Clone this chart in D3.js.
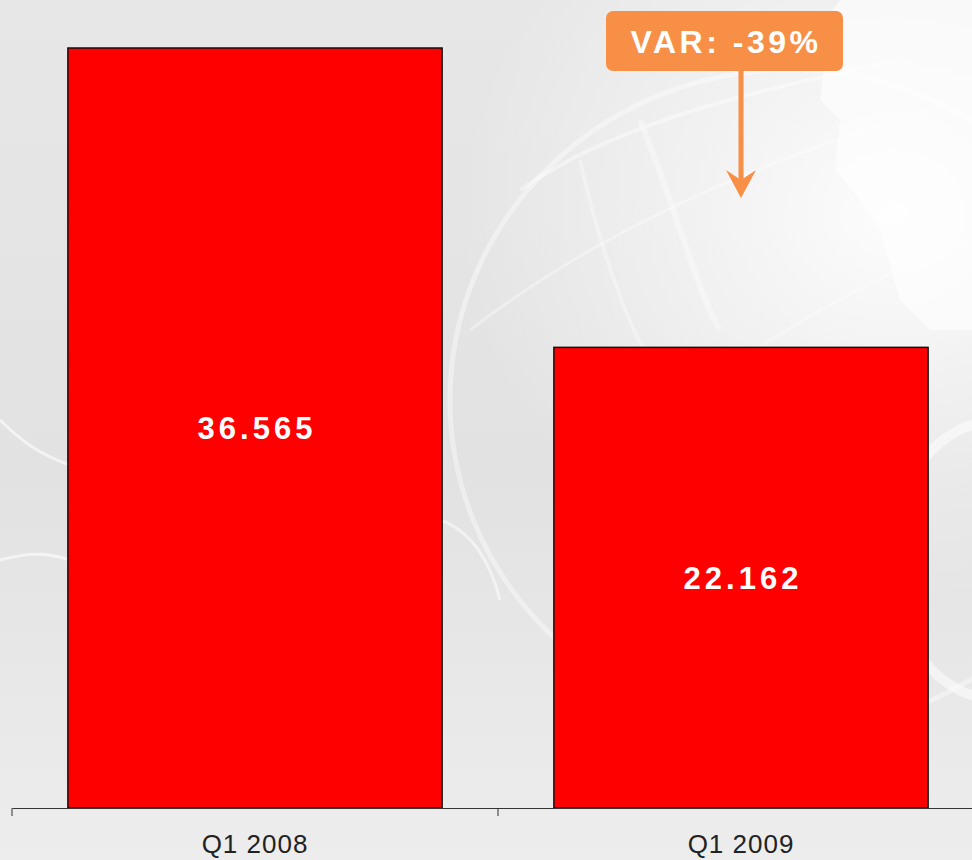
<!DOCTYPE html>
<html>
<head>
<meta charset="utf-8">
<script src="https://cdn.jsdelivr.net/npm/d3@7"></script>
<style>
  html, body { margin: 0; padding: 0; background: #e6e6e6; }
  svg { display: block; }
</style>
</head>
<body>
<div id="chart"></div>
<script>
// data
const categories = ["Q1 2008", "Q1 2009"];
const values = [36565, 22162];
const valueLabels = ["36.565", "22.162"];
const varLabel = "VAR: -39%";

const width = 972, height = 860;
const baseY = 808;

const svg = d3.select("#chart")
  .append("svg")
  .attr("width", width)
  .attr("height", height);

// background - light grey with a faint globe
const defs = svg.append("defs");
const bg = defs.append("radialGradient").attr("id", "bgGlow")
  .attr("cx", 0.92).attr("cy", 0.25).attr("r", 0.45);
bg.append("stop").attr("offset", 0).attr("stop-color", "#ffffff").attr("stop-opacity", 0.9);
bg.append("stop").attr("offset", 1).attr("stop-color", "#ffffff").attr("stop-opacity", 0);

const bg2 = defs.append("linearGradient").attr("id", "bgBase")
  .attr("x1", 0).attr("y1", 0).attr("x2", 0).attr("y2", 1);
bg2.append("stop").attr("offset", 0).attr("stop-color", "#e7e7e7");
bg2.append("stop").attr("offset", 0.55).attr("stop-color", "#e2e2e2");
bg2.append("stop").attr("offset", 1).attr("stop-color", "#ededed");

svg.append("rect").attr("width", width).attr("height", height).attr("fill", "url(#bgBase)");
svg.append("rect").attr("width", width).attr("height", height).attr("fill", "url(#bgGlow)");

const deco = svg.append("g").attr("fill", "none").attr("stroke", "#ffffff");
// globe outline
deco.append("ellipse").attr("cx", 790).attr("cy", 400).attr("rx", 340).attr("ry", 330)
  .attr("stroke-width", 5).attr("stroke-opacity", 0.4);
deco.append("ellipse").attr("cx", 1000).attr("cy", 560).attr("rx", 110).attr("ry", 140)
  .attr("stroke-width", 10).attr("stroke-opacity", 0.5);
// meridians / parallels
deco.append("path").attr("d", "M520,190 C620,120 760,90 900,60").attr("stroke-width", 4).attr("stroke-opacity", 0.4);
deco.append("path").attr("d", "M470,330 C600,230 760,160 930,110").attr("stroke-width", 3).attr("stroke-opacity", 0.35);
deco.append("path").attr("d", "M600,470 C720,360 860,280 972,240").attr("stroke-width", 3).attr("stroke-opacity", 0.3);
deco.append("path").attr("d", "M640,120 C680,220 700,300 720,330").attr("stroke-width", 6).attr("stroke-opacity", 0.35);
deco.append("path").attr("d", "M580,160 C600,250 630,330 650,360").attr("stroke-width", 4).attr("stroke-opacity", 0.3);
deco.append("path").attr("d", "M0,420 C20,440 40,455 70,465").attr("stroke-width", 3).attr("stroke-opacity", 0.6);
deco.append("path").attr("d", "M0,560 C20,555 40,550 70,560").attr("stroke-width", 3).attr("stroke-opacity", 0.6);
deco.append("path").attr("d", "M440,520 C470,530 490,560 500,600").attr("stroke-width", 3).attr("stroke-opacity", 0.5);
// bright continent on the upper right
svg.append("path")
  .attr("d", "M840,0 L972,0 L972,330 L930,330 L900,300 L880,230 L860,200 L835,170 L840,120 L820,100 L825,60 L810,40 Z")
  .attr("fill", "#ffffff").attr("fill-opacity", 0.6);

// scales
const x = d3.scaleBand()
  .domain(categories)
  .range([12, 984])
  .paddingInner(0.23)
  .paddingOuter(0.115);

const y = d3.scaleLinear()
  .domain([0, d3.max(values)])
  .range([baseY, 48]);

// bars
svg.append("g")
  .selectAll("rect")
  .data(values)
  .join("rect")
    .attr("x", (d, i) => x(categories[i]))
    .attr("y", d => y(d))
    .attr("width", x.bandwidth())
    .attr("height", d => baseY - y(d))
    .attr("fill", "#ff0000")
    .attr("stroke", "#111111")
    .attr("stroke-width", 1.5);

// value labels inside bars
svg.append("g")
  .selectAll("text")
  .data(values)
  .join("text")
    .attr("x", (d, i) => x(categories[i]) + x.bandwidth() / 2 + 2)
    .attr("y", d => (y(d) + baseY) / 2 + 11)
    .attr("text-anchor", "middle")
    .attr("fill", "#ffffff")
    .style("font-family", "'Liberation Sans', Arial, sans-serif")
    .style("font-weight", "bold")
    .style("font-size", "31px")
    .style("letter-spacing", "4px")
    .text((d, i) => valueLabels[i]);

// x axis
const xAxis = svg.append("g")
  .attr("transform", "translate(0," + baseY + ")")
  .call(d3.axisBottom(x).tickSize(0).tickSizeOuter(0).tickPadding(27));
xAxis.select(".domain").attr("stroke", "#333333");
xAxis.selectAll(".tick text")
  .attr("fill", "#222222")
  .style("font-family", "'Liberation Sans', Arial, sans-serif")
  .style("font-size", "26px")
  .style("letter-spacing", "1px");

// boundary ticks between categories
const bounds = [12, 12 + x.step(), 12 + 2 * x.step()];
xAxis.selectAll("line.bound")
  .data(bounds)
  .join("line")
    .attr("class", "bound")
    .attr("x1", d => d).attr("x2", d => d)
    .attr("y1", 0).attr("y2", 8)
    .attr("stroke", "#333333");

// variation annotation
const arrowX = x(categories[1]) + x.bandwidth() / 2;
const ann = svg.append("g");
ann.append("line")
  .attr("x1", arrowX).attr("x2", arrowX)
  .attr("y1", 71).attr("y2", 182)
  .attr("stroke", "#f79046")
  .attr("stroke-width", 5);
ann.append("path")
  .attr("d", d3.line()([[arrowX, 198], [arrowX - 15, 170], [arrowX, 180], [arrowX + 15, 170]]) + "Z")
  .attr("fill", "#f79046");
ann.append("rect")
  .attr("x", 606).attr("y", 11)
  .attr("width", 237).attr("height", 60)
  .attr("rx", 7)
  .attr("fill", "#f79046");
ann.append("text")
  .attr("x", 726).attr("y", 53)
  .attr("text-anchor", "middle")
  .attr("fill", "#ffffff")
  .style("font-family", "'Liberation Sans', Arial, sans-serif")
  .style("font-weight", "bold")
  .style("font-size", "32px")
  .style("letter-spacing", "3.5px")
  .text(varLabel);
</script>
</body>
</html>
